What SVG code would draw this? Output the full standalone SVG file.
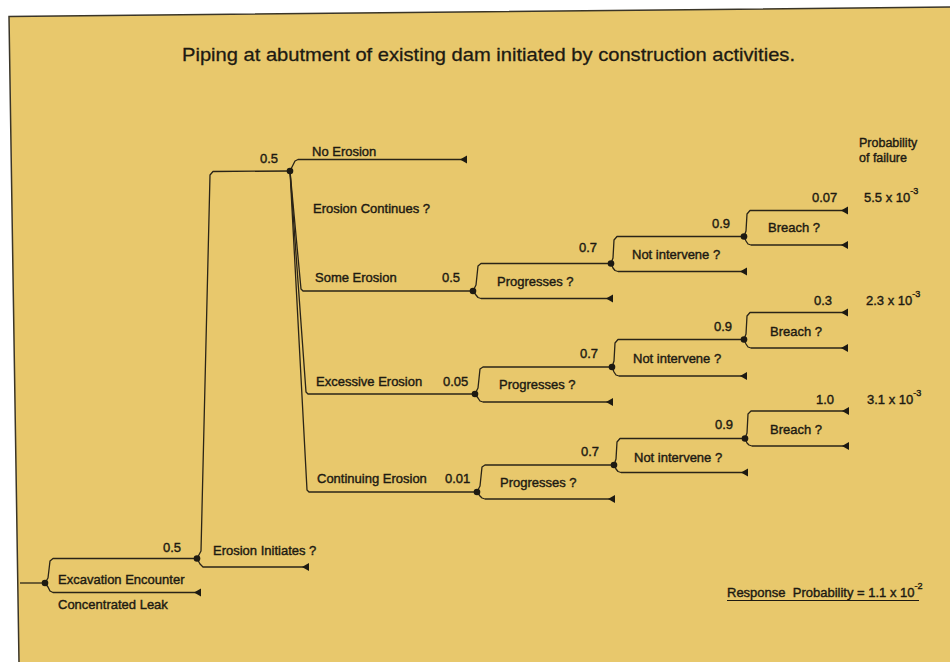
<svg xmlns="http://www.w3.org/2000/svg" width="950" height="662" viewBox="0 0 950 662">
  <defs>
    <style>
      .t { font-family: "Liberation Sans", Arial, sans-serif; font-size: 13px; fill: #1d1a12; stroke: #1d1a12; stroke-width: 0.4; }
      .title { font-size: 19px; stroke-width: 0.3; }
      .small { font-size: 12.5px; }
      .sup { font-size: 9px; }
      .ln { fill: none; stroke: #2a2417; stroke-width: 1.3; stroke-linejoin: round; }
      .dot { fill: #1d1a12; }
    </style>
    <!-- terminal mark: small left-pointing triangle whose flat side sits on the branch end -->
    <marker id="end" markerUnits="userSpaceOnUse" markerWidth="8" markerHeight="10" viewBox="0 -5 8 10" refX="7" refY="0" orient="auto">
      <path d="M0,0 L7,-4 L7,4 Z" fill="#1d1a12"/>
    </marker>
  </defs>

  <!-- page and board -->
  <rect x="0" y="0" width="950" height="662" fill="#ffffff"/>
  <polygon points="9,16.5 950,7 950,662 19,662" fill="#e8c86c"/>
  <polyline points="19,662 9,16.5 950,7" fill="none" stroke="#3a3528" stroke-width="1.5"/>

  <text class="t title" x="182" y="61" textLength="613" lengthAdjust="spacingAndGlyphs">Piping at abutment of existing dam initiated by construction activities.</text>

  <!-- branches -->
  <g id="connectors" class="ln">
    <!-- lead-in -->
    <path d="M20,583 L45,583"/>
    <!-- Excavation Encounter -->
    <path d="M45,583 L48,578 L50,561 L53,558.5 L197,558.5"/>
    <path d="M45,583 L48,587 L50,591 L53,592.5 L201,592.5" marker-end="url(#end)"/>
    <!-- Erosion Initiates -->
    <path d="M197,558.5 L201,551 L210,175 L213,171.5 L290,171"/>
    <path d="M197,558.5 L200,564 L203,567 L309,567" marker-end="url(#end)"/>
    <!-- Erosion Continues -->
    <path d="M290,171 L293,165 L295,161 L298,159.5 L467,159.5" marker-end="url(#end)"/>
    <path d="M290,171 L301,289 L303,291 L473,291"/>
    <path d="M290,171 L306,392 L308,394 L475,394"/>
    <path d="M290,171 L307,490 L309,492 L477,492"/>
    <!-- Progresses (some erosion) -->
    <path d="M473,291 L476,285 L478,266 L481,263.5 L611,263.5"/>
    <path d="M473,291 L476,295 L478,297.5 L481,298.5 L613,298.5" marker-end="url(#end)"/>
    <!-- Progresses (excessive erosion) -->
    <path d="M475,394 L478,388 L480,369 L483,367 L612,367"/>
    <path d="M475,394 L478,398 L480,401 L483,402 L613,402" marker-end="url(#end)"/>
    <!-- Progresses (continuing erosion) -->
    <path d="M477,492 L480,486 L482,467 L485,465 L614,465"/>
    <path d="M477,492 L480,496 L482,498 L485,499 L615,499" marker-end="url(#end)"/>
    <!-- Not intervene 1 -->
    <path d="M611,263.5 L613,258 L614,240 L617,236.5 L744,236.5"/>
    <path d="M611,263.5 L613,268 L615,270.5 L618,271.5 L747,271.5" marker-end="url(#end)"/>
    <!-- Not intervene 2 -->
    <path d="M612,367 L614,361 L615,343 L618,339.5 L744,339.5"/>
    <path d="M612,367 L614,372 L616,375 L619,376 L747,376" marker-end="url(#end)"/>
    <!-- Not intervene 3 -->
    <path d="M614,465 L616,459 L617,442 L620,438.5 L745,438.5"/>
    <path d="M614,465 L616,469 L618,471.5 L621,472.5 L748,472.5" marker-end="url(#end)"/>
    <!-- Breach 1 -->
    <path d="M744,236.5 L746,231 L747,214 L750,210.5 L848,210.5" marker-end="url(#end)"/>
    <path d="M744,236.5 L746,241 L748,244 L751,245 L848,245" marker-end="url(#end)"/>
    <!-- Breach 2 -->
    <path d="M744,339.5 L746,334 L747,316 L750,312.5 L848,312.5" marker-end="url(#end)"/>
    <path d="M744,339.5 L746,344 L748,347 L751,348 L848,348" marker-end="url(#end)"/>
    <!-- Breach 3 -->
    <path d="M745,438.5 L747,433 L748,414 L751,411 L849,411" marker-end="url(#end)"/>
    <path d="M745,438.5 L747,443 L749,445 L752,446 L849,446" marker-end="url(#end)"/>
  </g>

  <!-- chance nodes -->
  <g id="excavation-encounter">
    <circle class="dot" cx="45" cy="583" r="3.3"/>
    <text class="t" x="58" y="584">Excavation Encounter</text>
    <text class="t" x="58" y="609">Concentrated Leak</text>
  </g>
  <g id="erosion-initiates">
    <circle class="dot" cx="197" cy="558.5" r="3.3"/>
    <text class="t" x="213" y="555">Erosion Initiates ?</text>
  </g>
  <g id="erosion-continues">
    <circle class="dot" cx="290" cy="171" r="3.3"/>
    <text class="t" x="313" y="213">Erosion Continues ?</text>
  </g>
  <g id="progresses-1">
    <circle class="dot" cx="473" cy="291" r="3.3"/>
    <text class="t" x="497" y="286">Progresses ?</text>
  </g>
  <g id="progresses-2">
    <circle class="dot" cx="475" cy="394" r="3.3"/>
    <text class="t" x="499" y="389">Progresses ?</text>
  </g>
  <g id="progresses-3">
    <circle class="dot" cx="477" cy="492" r="3.3"/>
    <text class="t" x="500" y="487">Progresses ?</text>
  </g>
  <g id="not-intervene-1">
    <circle class="dot" cx="611" cy="263.5" r="3.3"/>
    <text class="t" x="632" y="259">Not intervene ?</text>
  </g>
  <g id="not-intervene-2">
    <circle class="dot" cx="612" cy="367" r="3.3"/>
    <text class="t" x="633" y="363">Not intervene ?</text>
  </g>
  <g id="not-intervene-3">
    <circle class="dot" cx="614" cy="465" r="3.3"/>
    <text class="t" x="634" y="462">Not intervene ?</text>
  </g>
  <g id="breach-1">
    <circle class="dot" cx="744" cy="236.5" r="3.3"/>
    <text class="t" x="768" y="232">Breach ?</text>
  </g>
  <g id="breach-2">
    <circle class="dot" cx="744" cy="339.5" r="3.3"/>
    <text class="t" x="770" y="336">Breach ?</text>
  </g>
  <g id="breach-3">
    <circle class="dot" cx="745" cy="438.5" r="3.3"/>
    <text class="t" x="770" y="434">Breach ?</text>
  </g>

  <!-- branch labels and probabilities -->
  <g id="branch-labels">
    <text class="t" x="163" y="552">0.5</text>
    <text class="t" x="260" y="163">0.5</text>
    <text class="t" x="312" y="156">No Erosion</text>
    <text class="t" x="315" y="282">Some Erosion</text>
    <text class="t" x="442" y="282">0.5</text>
    <text class="t" x="316" y="386">Excessive Erosion</text>
    <text class="t" x="443" y="386">0.05</text>
    <text class="t" x="317" y="483">Continuing Erosion</text>
    <text class="t" x="445" y="483">0.01</text>
    <text class="t" x="579" y="252">0.7</text>
    <text class="t" x="580" y="358">0.7</text>
    <text class="t" x="581" y="456">0.7</text>
    <text class="t" x="712" y="228">0.9</text>
    <text class="t" x="714" y="331">0.9</text>
    <text class="t" x="715" y="429">0.9</text>
    <text class="t" x="812" y="202">0.07</text>
    <text class="t" x="814" y="305">0.3</text>
    <text class="t" x="816" y="404">1.0</text>
  </g>

  <g id="failure-probabilities">
    <text class="t small" x="859" y="147">Probability</text>
    <text class="t small" x="859" y="162">of failure</text>
    <text class="t" x="864" y="202">5.5 x 10<tspan class="sup" dy="-8">-3</tspan></text>
    <text class="t" x="866" y="305">2.3 x 10<tspan class="sup" dy="-8">-3</tspan></text>
    <text class="t" x="867" y="404">3.1 x 10<tspan class="sup" dy="-8">-3</tspan></text>
  </g>

  <g id="response-probability">
    <text class="t" x="727" y="597" xml:space="preserve">Response  Probability = 1.1 x 10<tspan class="sup" dy="-8">-2</tspan></text>
    <line x1="727" y1="600.5" x2="919" y2="600.5" stroke="#1d1a12" stroke-width="1.1"/>
  </g>
</svg>
